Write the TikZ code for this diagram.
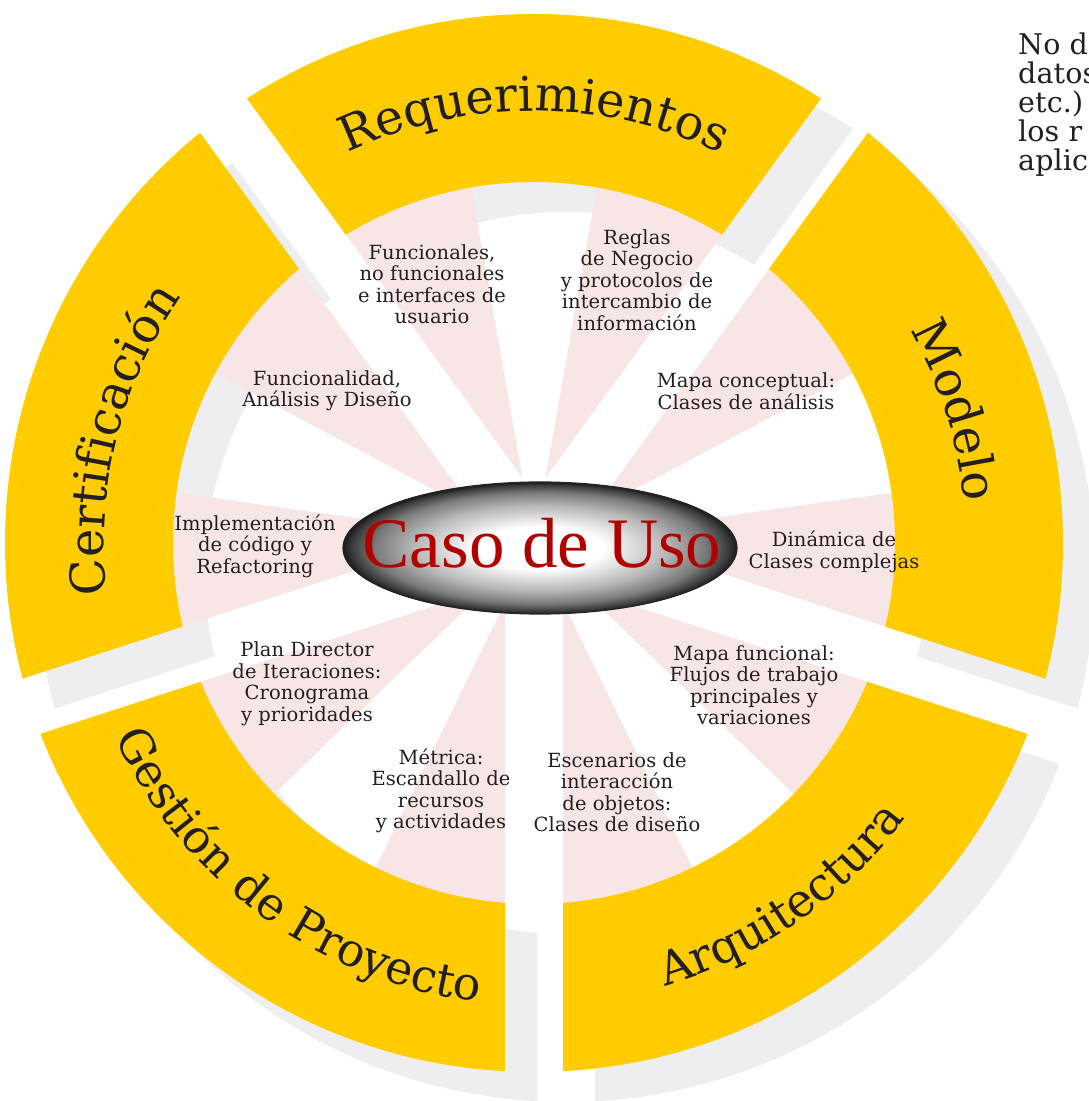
\documentclass[tikz,border=0pt]{standalone}
\usepackage{fontspec}
\setmainfont{DejaVu Serif}
\newfontfamily\lblfont[LetterSpace=0.5]{DejaVu Serif}
\newfontfamily\bigfont[LetterSpace=1]{DejaVu Serif}
\newfontfamily\casofont{Liberation Serif}
\usetikzlibrary{calc,decorations.text,shapes.geometric}
\definecolor{segyellow}{RGB}{255,204,0}
\definecolor{raypink}{RGB}{248,230,231}
\definecolor{shadowgray}{RGB}{238,238,240}
\definecolor{inkdark}{RGB}{35,31,32}
\definecolor{casored}{RGB}{176,0,0}
\pgfdeclareradialshading{ellshade}{\pgfpoint{0bp}{0bp}}{color(0bp)=(white); color(8bp)=(white); color(16bp)=(black!28); color(21bp)=(black!52); color(24bp)=(black!78); color(25bp)=(black!90); color(50bp)=(black!90)}
\newcommand\segclip[2]{\clip ($(#2)+(#1:49.34)$) -- ($(#2)+(#1:49.34)+(#1-36:900)$) -- ($(#2)+(#1:1400)$) -- ($(#2)+(#1:49.34)+(#1+36:900)$) -- cycle;}
\newcommand\bigsz{\bigfont\fontsize{48}{48}\selectfont}
\newcommand\bigszb{\bigfont\fontsize{46}{46}\selectfont}
\begin{document}
\begin{tikzpicture}[x=1pt,y=1pt,
  lbl/.style={font=\lblfont\fontsize{19.5}{21.5}\selectfont, text=inkdark, align=center, inner sep=0pt},
  side/.style={font=\lblfont\fontsize{28.5}{29}\selectfont, text=inkdark, anchor=base west, inner sep=0pt},
  arctext/.style={decorate, decoration={text along path, text align=center, text color=inkdark, text={|\bigsz|#1}}},
  arctextb/.style={decorate, decoration={text along path, text align=center, text color=inkdark, text={|\bigszb|#1}}}
  ]
\useasboundingbox (0,0) rectangle (1089,1101);
\coordinate (C) at (534,558);
\coordinate (Cs) at (566,528);

% shadows
\foreach \b in {90,18,-54,-126,162}{
  \begin{scope}
    \segclip{\b}{Cs}
    \fill[shadowgray,even odd rule] (Cs) circle[radius=529] (Cs) circle[radius=361];
  \end{scope}
}
% pink rays
\foreach \b in {90,18,-54,-126,162}{
  \begin{scope}
    \segclip{\b}{C}
    \fill[raypink] (C) -- ($(C)+(\b+10:375)$) arc[start angle=\b+10, end angle=\b+36, radius=375] -- cycle;
    \fill[raypink] (C) -- ($(C)+(\b-36:375)$) arc[start angle=\b-36, end angle=\b-10, radius=375] -- cycle;
  \end{scope}
}
% yellow segments
\foreach \b in {90,18,-54,-126,162}{
  \begin{scope}
    \segclip{\b}{C}
    \fill[segyellow,even odd rule] (C) circle[radius=529] (C) circle[radius=361];
  \end{scope}
}

% segment titles
\path[arctext=Requerimientos] ($(C)+(150:432)$) arc[start angle=150, end angle=30, radius=432];
\path[arctext=Modelo] ($(C)+(60:432)$) arc[start angle=60, end angle=-25, radius=432];
\path[arctext=Certificación] ($(C)+(211:430)$) arc[start angle=211, end angle=121, radius=430];
\path[arctextb=Arquitectura] ($(C)+(-100:462)$) arc[start angle=-100, end angle=-10, radius=462];
\path[arctextb={Gestión de Proyecto}] ($(C)+(-171:462)$) arc[start angle=-171, end angle=-81, radius=462];

% centre ellipse
\node[ellipse, draw=black!85, line width=1.2pt, minimum width=394pt, minimum height=132pt, inner sep=0pt, shade, shading=ellshade] (ell) at (540,553) {};
\node[font=\casofont\fontsize{71}{71}\selectfont, text=casored, anchor=base, inner sep=0pt] (caso) at (542,533) {Caso de Uso};

% labels
\node[lbl] (l1) at (432,817) {Funcionales,\\no funcionales\\e interfaces de\\usuario};
\node[lbl] (l2) at (637,821) {Reglas\\de Negocio\\y protocolos de\\intercambio de\\información};
\node[lbl] (l3) at (327,710) {Funcionalidad,\\Análisis y Diseño};
\node[lbl] (l4) at (746,710) {Mapa conceptual:\\Clases de análisis};
\node[lbl] (l5) at (255,555) {Implementación\\de código y\\Refactoring};
\node[lbl] (l6) at (834,549) {Dinámica de\\Clases complejas};
\node[lbl] (l7) at (307,417) {Plan Director\\de Iteraciones:\\Cronograma\\y prioridades};
\node[lbl] (l8) at (754,416) {Mapa funcional:\\Flujos de trabajo\\principales y\\variaciones};
\node[lbl] (l9) at (441,310) {Métrica:\\Escandallo de\\recursos\\y actividades};
\node[lbl] (l10) at (617,309) {Escenarios de\\interacción\\de objetos:\\Clases de diseño};

% clipped side text
\node[side] (s1) at (1018,1046) {No d};
\node[side] (s2) at (1018,1017) {datos};
\node[side] (s3) at (1018,988) {etc.)};
\node[side] (s4) at (1018,959) {los r};
\node[side] (s5) at (1018,930) {aplic};
\end{tikzpicture}
\end{document}
